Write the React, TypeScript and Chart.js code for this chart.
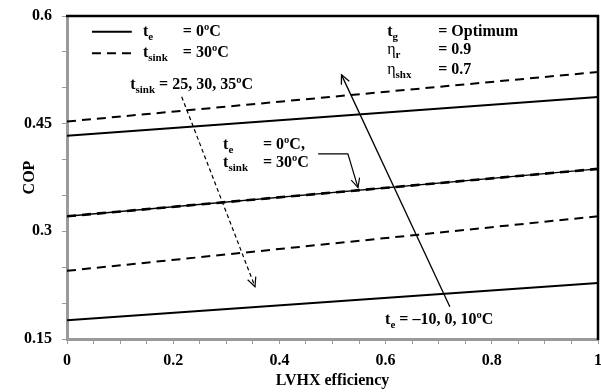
import React, { useEffect, useRef } from "react";
import { Chart, registerables } from "chart.js";

Chart.register(...registerables);

// ---- data ----
const effX = [0, 1];
const solidTeM10 = [0.176, 0.228];
const solidTe0 = [0.321, 0.387];
const solidTe10 = [0.433, 0.487];
const dashTs35 = [0.245, 0.321];
const dashTs30 = [0.321, 0.387];
const dashTs25 = [0.453, 0.522];

const xTickLabels = ["0", "0.2", "0.4", "0.6", "0.8", "1"];
const yTickLabels = ["0.15", "0.3", "0.45", "0.6"];

const GREY = "#9a9a9a";
const SERIF = "'Liberation Serif', 'Times New Roman', serif";

function toPts(ys: number[]) {
  return effX.map((x, i) => ({ x, y: ys[i] }));
}

type Seg = { main: string; sub?: string; rest?: string; symbol?: boolean };

function drawSubText(ctx: CanvasRenderingContext2D, x: number, y: number, s: Seg) {
  ctx.save();
  ctx.textBaseline = "middle";
  ctx.textAlign = "left";
  ctx.fillStyle = "#000";
  ctx.font = (s.symbol ? "" : "bold ") + "16px " + SERIF;
  ctx.fillText(s.main, x, y);
  let cx = x + ctx.measureText(s.main).width;
  if (s.sub) {
    ctx.font = "bold 11px " + SERIF;
    ctx.fillText(s.sub, cx, y + 5);
    cx += ctx.measureText(s.sub).width;
  }
  if (s.rest) {
    ctx.font = "bold 16px " + SERIF;
    ctx.fillText(s.rest, cx, y);
  }
  ctx.restore();
}

function arrowHead(ctx: CanvasRenderingContext2D, x0: number, y0: number, x1: number, y1: number, len: number) {
  const a = Math.atan2(y1 - y0, x1 - x0);
  const sp = 0.45;
  ctx.beginPath();
  ctx.moveTo(x1 - len * Math.cos(a - sp), y1 - len * Math.sin(a - sp));
  ctx.lineTo(x1, y1);
  ctx.lineTo(x1 - len * Math.cos(a + sp), y1 - len * Math.sin(a + sp));
  ctx.stroke();
}

const annot = {
  id: "annot",
  afterDraw(chart: any) {
    const { ctx, chartArea, scales } = chart;
    const X = (v: number) => scales.x.getPixelForValue(v);
    const Y = (v: number) => scales.y.getPixelForValue(v);
    ctx.save();
    // top and right frame
    ctx.strokeStyle = "#000";
    ctx.lineWidth = 2.5;
    ctx.beginPath();
    ctx.moveTo(chartArea.left - 1, chartArea.top);
    ctx.lineTo(chartArea.right, chartArea.top);
    ctx.lineTo(chartArea.right, chartArea.bottom + 1);
    ctx.stroke();

    // legend samples
    ctx.lineWidth = 2;
    ctx.beginPath();
    ctx.moveTo(X(0.047), Y(0.578));
    ctx.lineTo(X(0.122), Y(0.578));
    ctx.stroke();
    ctx.setLineDash([9, 6]);
    ctx.beginPath();
    ctx.moveTo(X(0.047), Y(0.548));
    ctx.lineTo(X(0.122), Y(0.548));
    ctx.stroke();
    ctx.setLineDash([]);

    // texts
    drawSubText(ctx, X(0.143), Y(0.578), { main: "t", sub: "e" });
    drawSubText(ctx, X(0.218), Y(0.578), { main: "= 0ºC" });
    drawSubText(ctx, X(0.143), Y(0.548), { main: "t", sub: "sink" });
    drawSubText(ctx, X(0.218), Y(0.548), { main: "= 30ºC" });
    drawSubText(ctx, X(0.119), Y(0.504), { main: "t", sub: "sink", rest: " = 25, 30, 35ºC" });

    drawSubText(ctx, X(0.603), Y(0.578), { main: "t", sub: "g" });
    drawSubText(ctx, X(0.699), Y(0.578), { main: "= Optimum" });
    drawSubText(ctx, X(0.603), Y(0.553), { main: "η", sub: "r", symbol: true });
    drawSubText(ctx, X(0.699), Y(0.553), { main: "= 0.9" });
    drawSubText(ctx, X(0.603), Y(0.525), { main: "η", sub: "shx", symbol: true });
    drawSubText(ctx, X(0.699), Y(0.525), { main: "= 0.7" });

    drawSubText(ctx, X(0.294), Y(0.420), { main: "t", sub: "e" });
    drawSubText(ctx, X(0.369), Y(0.420), { main: "= 0ºC," });
    drawSubText(ctx, X(0.294), Y(0.395), { main: "t", sub: "sink" });
    drawSubText(ctx, X(0.369), Y(0.395), { main: "= 30ºC" });

    drawSubText(ctx, X(0.599), Y(0.176), { main: "t", sub: "e", rest: " = –10, 0, 10ºC" });

    // dashed arrow
    ctx.strokeStyle = "#000";
    ctx.lineWidth = 1.2;
    ctx.setLineDash([4, 3]);
    let x0 = X(0.216), y0 = Y(0.4876), x1 = X(0.354), y1 = Y(0.223);
    ctx.beginPath();
    ctx.moveTo(x0, y0);
    ctx.lineTo(x1, y1);
    ctx.stroke();
    ctx.setLineDash([]);
    arrowHead(ctx, x0, y0, x1, y1, 10);

    // solid arrow
    ctx.lineWidth = 1.3;
    x0 = X(0.721); y0 = Y(0.195); x1 = X(0.517); y1 = Y(0.518);
    ctx.beginPath();
    ctx.moveTo(x0, y0);
    ctx.lineTo(x1, y1);
    ctx.stroke();
    arrowHead(ctx, x0, y0, x1, y1, 10);

    // leader arrow
    ctx.lineWidth = 1.2;
    ctx.beginPath();
    ctx.moveTo(X(0.473), Y(0.408));
    ctx.lineTo(X(0.529), Y(0.408));
    ctx.lineTo(X(0.548), Y(0.361));
    ctx.stroke();
    arrowHead(ctx, X(0.529), Y(0.408), X(0.548), Y(0.361), 10);

    // axis titles
    ctx.fillStyle = "#000";
    ctx.font = "bold 16px " + SERIF;
    ctx.textAlign = "center";
    ctx.textBaseline = "middle";
    ctx.fillText("LVHX efficiency", (chartArea.left + chartArea.right) / 2, 381);
    ctx.translate(30, (chartArea.top + chartArea.bottom) / 2);
    ctx.rotate(-Math.PI / 2);
    ctx.fillText("COP", 0, 0);
    ctx.restore();
  },
};

const near = (v: number, step: number) => Math.abs(v / step - Math.round(v / step)) < 1e-6;

export default function App() {
  const ref = useRef<HTMLCanvasElement | null>(null);
  useEffect(() => {
    document.body.style.margin = "0";
    const solid = (ys: number[], w = 2) => ({
      data: toPts(ys),
      borderColor: "#000",
      borderWidth: w,
      pointRadius: 0,
      fill: false,
    });
    const dashed = (ys: number[], w = 2) => ({
      data: toPts(ys),
      borderColor: "#000",
      borderWidth: w,
      borderDash: [9, 6],
      pointRadius: 0,
      fill: false,
    });
    const chart = new Chart(ref.current as HTMLCanvasElement, {
      type: "line",
      data: {
        datasets: [
          solid(solidTeM10),
          solid(solidTe0, 1.3),
          solid(solidTe10),
          dashed(dashTs35),
          dashed(dashTs30, 2.6),
          dashed(dashTs25),
        ] as any,
      },
      options: {
        animation: false,
        responsive: false,
        layout: { padding: { top: 16, right: 3, left: 0, bottom: 0 } },
        plugins: { legend: { display: false }, tooltip: { enabled: false } },
        scales: {
          x: {
            type: "linear",
            min: 0,
            max: 1,
            afterFit(s: any) {
              s.height = 53;
              s.paddingRight = 0;
              s.paddingLeft = 0;
            },
            ticks: {
              stepSize: 0.05,
              autoSkip: false,
              maxRotation: 0,
              padding: 7,
              color: "#000",
              font: { family: SERIF, size: 16, weight: "bold" },
              callback: (v: any) => {
                const n = Number(v);
                if (!near(n, 0.2)) return "";
                return xTickLabels[Math.round(n / 0.2)];
              },
            },
            grid: { drawOnChartArea: false, drawTicks: true, tickLength: 5, color: GREY, lineWidth: 1 },
            border: { display: true, color: GREY, width: 3 },
          },
          y: {
            type: "linear",
            min: 0.15,
            max: 0.6,
            afterFit(s: any) {
              s.width = 67;
              s.paddingTop = 0;
              s.paddingBottom = 0;
            },
            ticks: {
              stepSize: 0.05,
              autoSkip: false,
              padding: 10,
              color: "#000",
              font: { family: SERIF, size: 16, weight: "bold" },
              callback: (v: any) => {
                const n = Number(v);
                if (!near(n, 0.15)) return "";
                return yTickLabels[Math.round(n / 0.15) - 1];
              },
            },
            grid: { drawOnChartArea: false, drawTicks: true, tickLength: 5, color: GREY, lineWidth: 1 },
            border: { display: true, color: GREY, width: 3 },
          },
        },
      } as any,
      plugins: [annot],
    });
    return () => chart.destroy();
  }, []);
  return <canvas ref={ref} width={601} height={392} style={{ display: "block" }} />;
}
